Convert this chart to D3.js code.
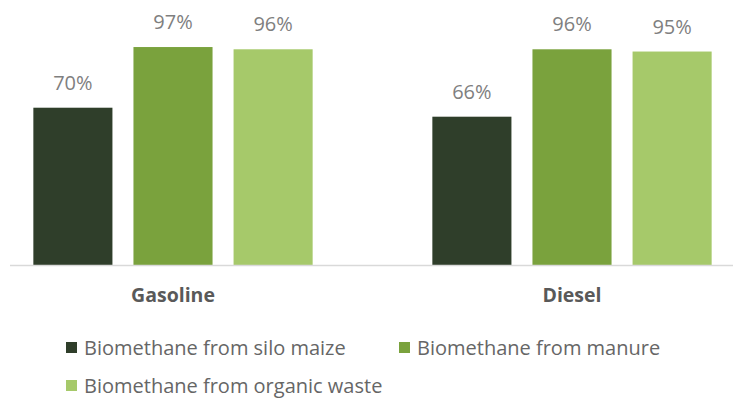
<!DOCTYPE html>
<html>
<head>
<meta charset="utf-8">
<script src="https://cdn.jsdelivr.net/npm/d3@7"></script>
<style>
  body { margin: 0; background: #fff; }
  svg { display: block; font-family: "Open Sans", sans-serif; }
</style>
</head>
<body>
<svg viewBox="0 0 754 403" width="754" height="403"></svg>
<script>
const fuels = ["Gasoline", "Diesel"];
const series = ["Biomethane from silo maize", "Biomethane from manure", "Biomethane from organic waste"];
const siloMaize = [70, 66];
const manure = [97, 96];
const organicWaste = [96, 95];
const colors = ["#2f3e2a", "#7aa23d", "#a6c96a"];

const svg = d3.select("svg");
const base_y = 265;

const x0 = d3.scaleBand()
    .domain(fuels)
    .range([-26.5, 771.5])
    .paddingInner(0.3)
    .paddingOuter(0.15);

const x1 = d3.scaleBand()
    .domain(series)
    .range([0, x0.bandwidth()])
    .paddingInner(0.21);

const y = d3.scaleLinear()
    .domain([0, 100])
    .range([base_y, 40.3]);

const values = [siloMaize, manure, organicWaste];
const rows = [];
fuels.forEach((f, i) => {
    series.forEach((s, j) => {
        rows.push({ fuel: f, series: s, value: values[j][i], color: colors[j] });
    });
});

const bars = svg.append("g");
bars.selectAll("rect")
    .data(rows)
    .enter()
    .append("rect")
    .attr("x", d => x0(d.fuel) + x1(d.series))
    .attr("y", d => y(d.value))
    .attr("width", x1.bandwidth())
    .attr("height", d => base_y - y(d.value))
    .attr("fill", d => d.color);

bars.selectAll("text")
    .data(rows)
    .enter()
    .append("text")
    .attr("x", d => x0(d.fuel) + x1(d.series) + x1.bandwidth() / 2)
    .attr("y", d => y(d.value) - 18)
    .attr("text-anchor", "middle")
    .attr("font-size", 20)
    .attr("fill", "#7f7f7f")
    .text(d => d.value + "%");

// baseline
svg.append("line")
    .attr("x1", 10).attr("x2", 733)
    .attr("y1", base_y + 0.5).attr("y2", base_y + 0.5)
    .attr("stroke", "#d9d9d9")
    .attr("stroke-width", 1.5);

svg.append("g")
    .selectAll("text")
    .data(fuels)
    .enter()
    .append("text")
    .attr("x", d => x0(d) + x0.bandwidth() / 2)
    .attr("y", 302)
    .attr("text-anchor", "middle")
    .attr("font-size", 19.5)
    .attr("font-weight", "bold")
    .attr("fill", "#595959")
    .text(d => d);

// legend
const legendPos = [[66, 355], [399, 355], [66, 393]];
const legend = svg.append("g")
    .selectAll("g")
    .data(series)
    .enter()
    .append("g")
    .attr("transform", (d, i) => `translate(${legendPos[i][0]},${legendPos[i][1]})`);

legend.append("rect")
    .attr("x", 0).attr("y", -13)
    .attr("width", 11).attr("height", 11)
    .attr("fill", (d, i) => colors[i]);

legend.append("text")
    .attr("x", 18)
    .attr("y", 0)
    .attr("font-size", 20)
    .attr("fill", "#666666")
    .text(d => d);
</script>
</body>
</html>
